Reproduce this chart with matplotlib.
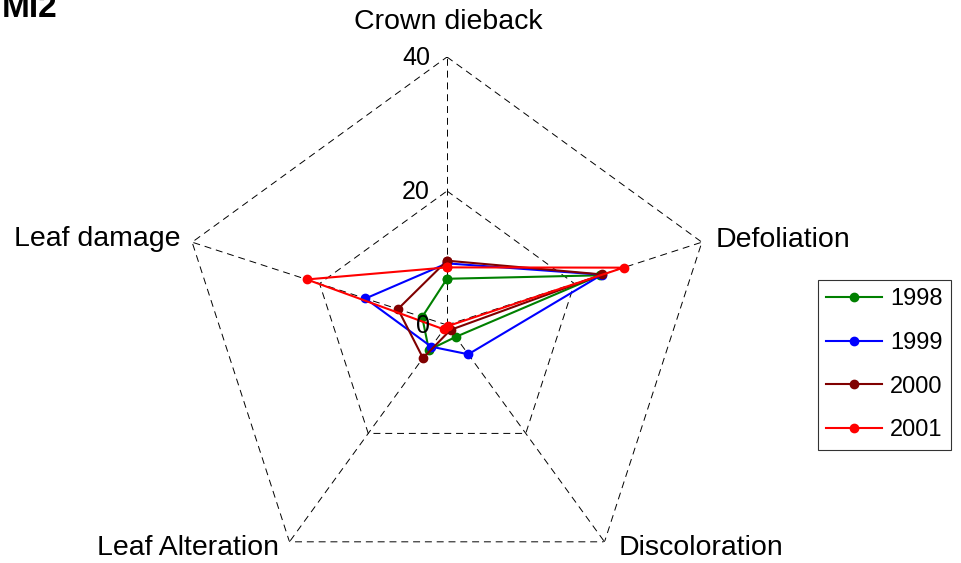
import numpy as np
import matplotlib
matplotlib.use('Agg')
import matplotlib.pyplot as plt

plt.rcParams['font.family'] = ['Liberation Sans', 'DejaVu Sans']
plt.rcParams['lines.scale_dashes'] = False

categories = ['Crown dieback', 'Defoliation', 'Discoloration', 'Leaf Alteration', 'Leaf damage']
years = ['1998', '1999', '2000', '2001']
v1998 = [6.9, 24.0, 2.2, 4.6, 3.9]
v1999 = [9.2, 24.3, 5.4, 4.0, 12.8]
v2000 = [9.6, 24.4, 0.9, 6.1, 7.7]
v2001 = [8.6, 27.7, 0.2, 0.8, 22.0]
ticks = [0, 20, 40]
colors = ['#008000', '#0000ff', '#800000', '#ff0000']

fig = plt.figure(figsize=(9.61, 5.63), dpi=100)
ax = fig.add_axes([179/961, -30/563, 536/961, 536/563], projection='polar')
ax.set_theta_offset(np.pi/2)
ax.set_theta_direction(-1)
ax.set_ylim(0, 40)
ax.grid(False)
ax.spines['polar'].set_visible(False)
ax.set_xticks([])
ax.set_yticks([])
ax.patch.set_alpha(0)

theta = np.linspace(0, 2*np.pi, len(categories), endpoint=False)
tclose = np.append(theta, theta[0])

# dashed pentagon grid
for r in [20, 40]:
    ax.plot(tclose, [r]*len(tclose), color='k', lw=0.7, ls=(0, (5, 3.5)))
for t in theta:
    ax.plot([t, t], [0, 40], color='k', lw=0.7, ls=(0, (5, 3.5)))

for vals, yr, c in zip([v1998, v1999, v2000, v2001], years, colors):
    vv = np.append(vals, vals[0])
    ax.plot(tclose, vv, '-', color=c, lw=1.5, marker='o', ms=6, label=yr)

# tick labels
for r in ticks:
    ax.annotate(str(r), xy=(0, r), xytext=(-17, -8), textcoords='offset pixels',
                ha='right', va='baseline', fontsize=18)

# category labels
offs = [(1, 28, 'center'), (14, -5, 'left'), (14, -13, 'left'), (-10, -13, 'right'), (-12, -4, 'right')]
for t, name, (dx, dy, ha) in zip(theta, categories, offs):
    ax.annotate(name, xy=(t, 40), xytext=(dx, dy), textcoords='offset pixels',
                ha=ha, va='baseline', fontsize=20.5)

leg = fig.legend(loc='upper left', bbox_to_anchor=(818/961, 1-280/563), fontsize=17,
                 frameon=True, fancybox=False, borderaxespad=0, borderpad=0.35,
                 labelspacing=0.92, handlelength=2.37, handletextpad=0.34)
leg.get_frame().set_edgecolor('k')
leg.get_frame().set_linewidth(0.8)

fig.text(0.002, 1-17/563, 'MI2', fontsize=24, fontweight='bold', ha='left', va='baseline')

fig.savefig('out.png', dpi=100)
